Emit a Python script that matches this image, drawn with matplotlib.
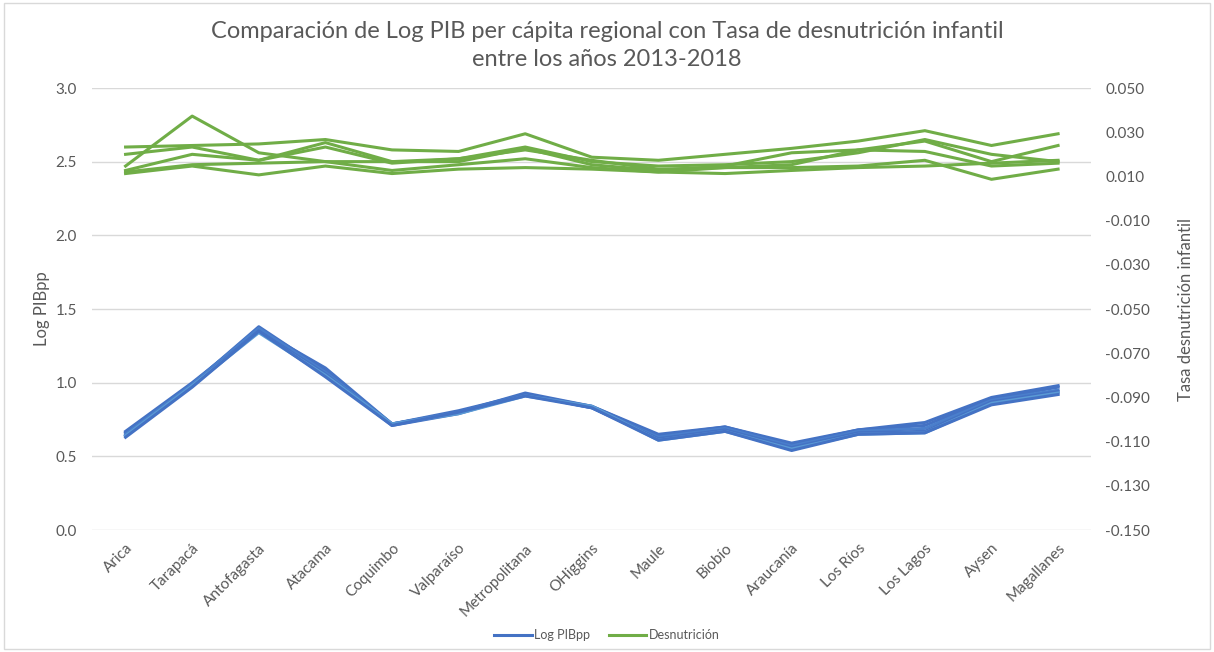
import matplotlib.pyplot as plt
from matplotlib.patches import Rectangle
from matplotlib.lines import Line2D

plt.rcParams['font.family'] = ['Lato', 'DejaVu Sans']

# ---- data ----
regiones = ["Arica", "Tarapacá", "Antofagasta", "Atacama", "Coquimbo", "Valparaíso",
            "Metropolitana", "OHiggins", "Maule", "Biobío", "Araucanía", "Los Ríos",
            "Los Lagos", "Aysen", "Magallanes"]

# Log PIB per cápita, 2013-2018
pib_2013 = [0.67, 1.00, 1.36, 1.10, 0.72, 0.81, 0.92, 0.84, 0.65, 0.70, 0.59, 0.68, 0.73, 0.90, 0.98]
pib_2014 = [0.66, 0.99, 1.38, 1.08, 0.72, 0.80, 0.93, 0.84, 0.64, 0.70, 0.58, 0.68, 0.71, 0.89, 0.97]
pib_2015 = [0.65, 0.99, 1.37, 1.07, 0.72, 0.80, 0.92, 0.83, 0.63, 0.69, 0.57, 0.67, 0.69, 0.88, 0.95]
pib_2016 = [0.64, 0.98, 1.35, 1.06, 0.71, 0.79, 0.92, 0.83, 0.62, 0.68, 0.56, 0.66, 0.67, 0.87, 0.94]
pib_2017 = [0.64, 0.98, 1.34, 1.05, 0.72, 0.79, 0.91, 0.84, 0.61, 0.67, 0.55, 0.65, 0.66, 0.86, 0.93]
pib_2018 = [0.63, 0.97, 1.35, 1.04, 0.71, 0.80, 0.91, 0.83, 0.61, 0.67, 0.54, 0.65, 0.66, 0.85, 0.92]

# Tasa de desnutrición infantil, 2013-2018
des_2013 = [0.0233, 0.0240, 0.0247, 0.0267, 0.0220, 0.0213, 0.0293, 0.0187, 0.0173, 0.0200, 0.0227, 0.0260, 0.0307, 0.0240, 0.0293]
des_2014 = [0.0147, 0.0373, 0.0207, 0.0167, 0.0167, 0.0180, 0.0233, 0.0167, 0.0147, 0.0153, 0.0167, 0.0207, 0.0267, 0.0200, 0.0167]
des_2015 = [0.0200, 0.0233, 0.0173, 0.0253, 0.0167, 0.0167, 0.0227, 0.0153, 0.0127, 0.0147, 0.0207, 0.0220, 0.0260, 0.0167, 0.0240]
des_2016 = [0.0127, 0.0200, 0.0173, 0.0233, 0.0160, 0.0180, 0.0220, 0.0173, 0.0133, 0.0140, 0.0153, 0.0220, 0.0213, 0.0147, 0.0160]
des_2017 = [0.0120, 0.0153, 0.0160, 0.0167, 0.0127, 0.0153, 0.0180, 0.0140, 0.0120, 0.0140, 0.0140, 0.0147, 0.0173, 0.0087, 0.0133]
des_2018 = [0.0113, 0.0147, 0.0107, 0.0147, 0.0113, 0.0133, 0.0140, 0.0133, 0.0120, 0.0113, 0.0127, 0.0140, 0.0147, 0.0160, 0.0173]

pib_series = [pib_2013, pib_2014, pib_2015, pib_2016, pib_2017, pib_2018]
des_series = [des_2013, des_2014, des_2015, des_2016, des_2017, des_2018]

# ---- grafico ----
gris = "#595959"
azules = ["#4472C4", "#4472C4", "#4A7FCC", "#4472C4", "#5B9BD5", "#4472C4"]
verde = "#70AD47"

fig = plt.figure(figsize=(12.14, 6.52), dpi=100)
fig.patches.append(Rectangle((0.003, 0.005), 0.994, 0.99, transform=fig.transFigure,
                             fill=False, edgecolor="#D9D9D9", linewidth=1))

ax = fig.add_axes([0.076, 0.187, 0.823, 0.678])
ax2 = ax.twinx()

x = range(len(regiones))
for s, c in zip(pib_series, azules):
    ax.plot(x, s, color=c, linewidth=2.2)
for s in des_series:
    ax2.plot(x, s, color=verde, linewidth=2.2)

ax.set_xlim(-0.5, len(regiones) - 0.5)
ax.set_ylim(0, 3.0)
ax.set_yticks([0, 0.5, 1.0, 1.5, 2.0, 2.5, 3.0])
ax.set_yticklabels([f"{v:.1f}" for v in ax.get_yticks()])
ax2.set_ylim(-0.150, 0.050)
ax2.set_yticks([-0.150 + 0.02 * i for i in range(11)])
ax2.set_yticklabels([f"{v:.3f}".replace("-0.000", "0.000") for v in ax2.get_yticks()])

ax.grid(axis="y", color="#D9D9D9", linewidth=1)
ax.set_axisbelow(True)
for a in (ax, ax2):
    for sp in a.spines.values():
        sp.set_visible(False)
    a.tick_params(length=0, labelsize=11, colors=gris)

ax.set_xticks(list(x))
ax.set_xticklabels(regiones, rotation=45, ha="right", rotation_mode="anchor")
ax.tick_params(axis="x", pad=8)
ax.tick_params(axis="y", pad=11)
ax2.tick_params(axis="y", pad=10)

ax.set_ylabel("Log PIBpp", fontsize=12, color=gris, labelpad=4)
ax2.set_ylabel("Tasa desnutrición infantil", fontsize=12, color=gris, labelpad=20)

fig.suptitle("Comparación de Log PIB per cápita regional con Tasa de desnutrición infantil\nentre los años 2013-2018",
             y=0.968, fontsize=17, color=gris, linespacing=1.4)

handles = [Line2D([], [], color="#4472C4", linewidth=2.2),
           Line2D([], [], color=verde, linewidth=2.2)]
fig.legend(handles, ["Log PIBpp", "Desnutrición"], loc="center", bbox_to_anchor=(0.5, 0.026),
           ncol=2, frameon=False, fontsize=9, labelcolor=gris, handlelength=3,
           handletextpad=0.2, columnspacing=1.5)

plt.savefig("out.png", dpi=100)
plt.close()
